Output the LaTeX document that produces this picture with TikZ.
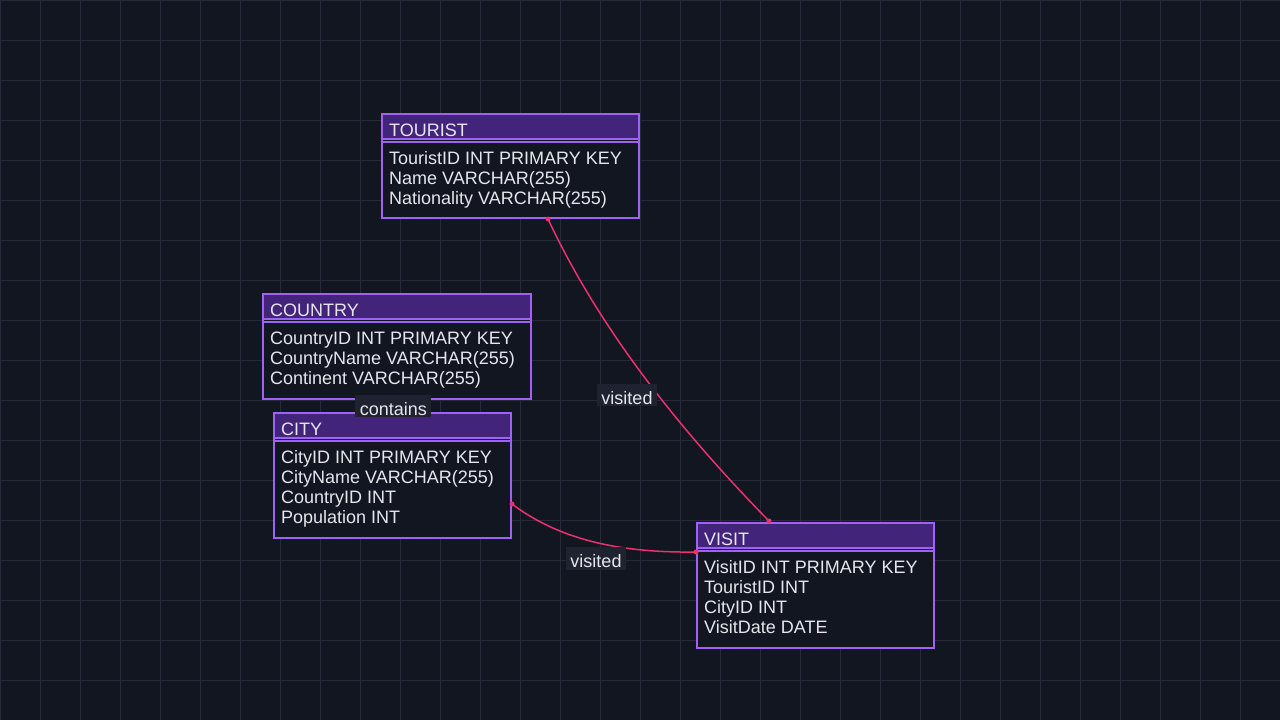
\documentclass[tikz,border=0pt]{standalone}
\usepackage{fontspec}
\setmainfont{Liberation Sans}
\usetikzlibrary{calc}
\definecolor{bgc}{HTML}{121620}
\definecolor{gridc}{HTML}{262A3A}
\definecolor{bordc}{HTML}{A062F4}
\definecolor{headc}{HTML}{42257A}
\definecolor{txtc}{HTML}{E6E6EE}
\definecolor{pinkc}{HTML}{EC3070}
\definecolor{lblc}{HTML}{1F2330}
\tikzset{
  tbl/.style={draw=bordc, line width=2pt, fill=bgc, rectangle, inner sep=0pt},
  hdr/.style={draw=bordc, line width=2pt, fill=headc, rectangle, inner sep=0pt},
  sep/.style={draw=bordc, line width=1.5pt},
  ttl/.style={text=txtc, anchor=base west, inner sep=0pt, font=\fontsize{18}{20}\selectfont},
  fld/.style={text=txtc, anchor=base west, inner sep=0pt, font=\fontsize{18}{20}\selectfont},
  rel/.style={draw=pinkc, line width=1.5pt},
  lbl/.style={fill=lblc, text=txtc, inner xsep=4.5pt, inner ysep=0pt, text height=20.5pt, text depth=2pt, anchor=base, font=\fontsize{18}{20}\selectfont},
  dot/.style={fill=pinkc, draw=none, circle, inner sep=0pt, minimum size=5pt}
}
\begin{document}
\begin{tikzpicture}[x=1pt,y=-1pt]
\fill[bgc] (0,0) rectangle (1280,720);
\useasboundingbox (0,0) rectangle (1280,720);
\foreach \x in {0,40,...,1280} \draw[gridc, line width=1pt] (\x,0) -- (\x,720);
\foreach \y in {0,40,...,720} \draw[gridc, line width=1pt] (0,\y) -- (1280,\y);

% TOURIST
\node[tbl, minimum width=257pt, minimum height=104pt] (tourist) at (510.5,166) {};
\node[hdr, minimum width=257pt, minimum height=25pt] (tourist-h) at (510.5,126.5) {};
\draw[sep] ($(tourist.north west)+(0,29)$) -- ($(tourist.north east)+(0,29)$);
\node[ttl] (tourist-t) at (389,136) {TOURIST};
\node[fld] (tourist-1) at (389,164) {TouristID INT PRIMARY KEY};
\node[fld] (tourist-2) at (389,184) {Name VARCHAR(255)};
\node[fld] (tourist-3) at (389,204) {Nationality VARCHAR(255)};

% COUNTRY
\node[tbl, minimum width=268pt, minimum height=105pt] (country) at (397,346.5) {};
\node[hdr, minimum width=268pt, minimum height=25pt] (country-h) at (397,306.5) {};
\draw[sep] ($(country.north west)+(0,29)$) -- ($(country.north east)+(0,29)$);
\node[ttl] (country-t) at (270,316) {COUNTRY};
\node[fld] (country-1) at (270,344) {CountryID INT PRIMARY KEY};
\node[fld] (country-2) at (270,364) {CountryName VARCHAR(255)};
\node[fld] (country-3) at (270,384) {Continent VARCHAR(255)};

% CITY
\node[tbl, minimum width=237pt, minimum height=125pt] (city) at (392.5,475.5) {};
\node[hdr, minimum width=237pt, minimum height=25pt] (city-h) at (392.5,425.5) {};
\draw[sep] ($(city.north west)+(0,29)$) -- ($(city.north east)+(0,29)$);
\node[ttl] (city-t) at (281,435) {CITY};
\node[fld] (city-1) at (281,463) {CityID INT PRIMARY KEY};
\node[fld] (city-2) at (281,483) {CityName VARCHAR(255)};
\node[fld] (city-3) at (281,503) {CountryID INT};
\node[fld] (city-4) at (281,523) {Population INT};

% VISIT
\node[tbl, minimum width=237pt, minimum height=125pt] (visit) at (815.5,585.5) {};
\node[hdr, minimum width=237pt, minimum height=25pt] (visit-h) at (815.5,535.5) {};
\draw[sep] ($(visit.north west)+(0,29)$) -- ($(visit.north east)+(0,29)$);
\node[ttl] (visit-t) at (704,545) {VISIT};
\node[fld] (visit-1) at (704,573) {VisitID INT PRIMARY KEY};
\node[fld] (visit-2) at (704,593) {TouristID INT};
\node[fld] (visit-3) at (704,613) {CityID INT};
\node[fld] (visit-4) at (704,633) {VisitDate DATE};

% relations
\coordinate (tA) at ($(tourist.south west)+(167,0)$);
\coordinate (vA) at ($(visit.north west)+(73,-1)$);
\coordinate (cA) at ($(city.north east)+(0,92)$);
\coordinate (vB) at ($(visit.north west)+(0,30)$);
\draw[rel] (tA) .. controls (600,330) and (680,430) .. (vA);
\draw[rel] (cA) .. controls (560,540) and (620,553) .. (vB);
\draw[rel] (country.south) -- (city.north);
\node[dot] (tAd) at (tA) {};
\node[dot] (vAd) at (vA) {};
\node[dot] (cAd) at (cA) {};
\node[dot] (vBd) at (vB) {};
\node[lbl] (l1) at (627,404) {visited};
\node[lbl] (l2) at (596,567.5) {visited};
\node[lbl] (l3) at (393.3,415) {contains};
\end{tikzpicture}
\end{document}
